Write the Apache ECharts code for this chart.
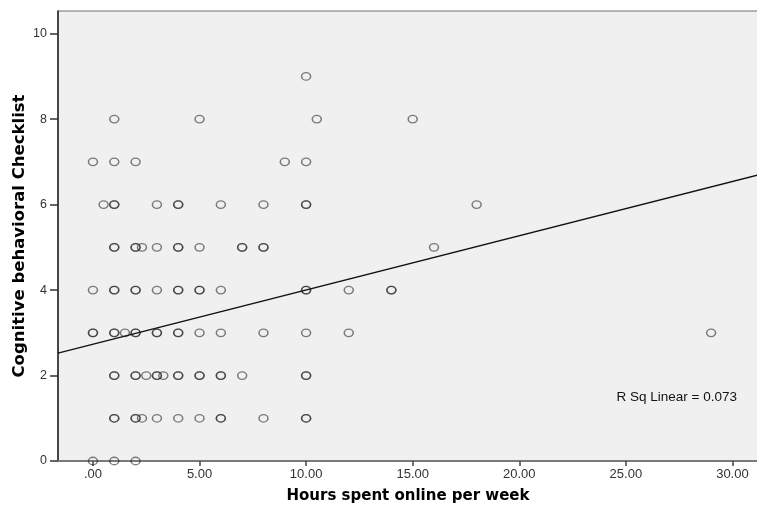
<!DOCTYPE html>
<html>
<head>
<meta charset="utf-8">
<script src="https://cdn.jsdelivr.net/npm/echarts@6/dist/echarts.min.js"></script>
<style>html,body{margin:0;padding:0;background:#fff}#c{width:757px;height:509px}</style>
</head>
<body>
<div id="c"></div>
<script>
// Hours spent online per week (x) and Cognitive behavioral Checklist score (y), one entry per respondent
const hoursOnline = [
  0,1,2,
  1,1,2,2,2.3,3,4,5,6,6,8,10,10,
  1,1,2,2,2.5,3,3,3.3,4,4,5,5,6,6,7,10,10,
  0,0,1,1,1.5,2,2,3,3,4,4,5,6,8,10,12,29,
  0,1,1,2,2,3,4,4,5,5,6,10,10,12,14,14,
  1,1,2,2,2.3,3,4,4,5,7,7,8,8,16,
  0.5,1,1,3,4,4,6,8,10,10,18,
  0,1,2,9,10,
  1,5,10.5,15,
  10
];
const checklistScore = [
  0,0,0,
  1,1,1,1,1,1,1,1,1,1,1,1,1,
  2,2,2,2,2,2,2,2,2,2,2,2,2,2,2,2,2,
  3,3,3,3,3,3,3,3,3,3,3,3,3,3,3,3,3,
  4,4,4,4,4,4,4,4,4,4,4,4,4,4,4,4,
  5,5,5,5,5,5,5,5,5,5,5,5,5,5,
  6,6,6,6,6,6,6,6,6,6,6,
  7,7,7,7,7,
  8,8,8,8,
  9
];
const fitIntercept = 2.73;
const fitSlope = 0.127;
const rSqLabel = 'R Sq Linear = 0.073';
const xTicks = [0, 5, 10, 15, 20, 25, 30];
const yTicks = [0, 2, 4, 6, 8, 10];
const xMin = -1.64, xMax = 31.2, yMin = 0, yMax = 10.53;

const points = hoursOnline.map((h, i) => [h, checklistScore[i]]);
const fitLine = [[xMin, fitIntercept + fitSlope * xMin], [xMax, fitIntercept + fitSlope * xMax]];

const chart = echarts.init(document.getElementById('c'));
const font = 'Arial, "Liberation Sans", sans-serif';
const titleFont = '"DejaVu Sans", Verdana, sans-serif';
chart.setOption({
  animation: false,
  backgroundColor: '#ffffff',
  grid: {
    left: 58, top: 11, right: -1, bottom: 48,
    outerBoundsMode: 'none', containLabel: false,
    show: true, backgroundColor: '#f0f0f0', borderColor: '#6e6e6e', borderWidth: 1
  },
  xAxis: {
    type: 'value', min: xMin, max: xMax,
    name: 'Hours spent online per week', nameLocation: 'middle', nameGap: 28, nameMoveOverlap: false,
    nameTextStyle: { fontFamily: titleFont, fontSize: 15, fontWeight: 'bold', color: '#000' },
    splitLine: { show: false },
    axisLine: { show: true, onZero: false, lineStyle: { color: '#7a7a7a', width: 2 } },
    axisTick: { show: true, length: 5, customValues: xTicks, lineStyle: { color: '#444', width: 1.5 } },
    axisLabel: {
      customValues: xTicks, margin: 7, color: '#333', fontFamily: font, fontSize: 13,
      formatter: v => v === 0 ? '.00' : v.toFixed(2)
    }
  },
  yAxis: {
    type: 'value', min: yMin, max: yMax,
    name: 'Cognitive behavioral Checklist', nameLocation: 'middle', nameGap: 30, nameMoveOverlap: false,
    nameTextStyle: { fontFamily: titleFont, fontSize: 16.5, fontWeight: 'bold', color: '#000' },
    splitLine: { show: false },
    axisLine: { show: true, onZero: false, lineStyle: { color: '#222', width: 1.5 } },
    axisTick: { show: true, length: 8, customValues: yTicks, lineStyle: { color: '#333', width: 1.5 } },
    axisLabel: { customValues: yTicks, margin: 11, color: '#333', fontFamily: font, fontSize: 12.5 }
  },
  graphic: [{
    type: 'text', right: 20, top: 390, z: 10,
    style: { text: rSqLabel, fontFamily: font, fontSize: 13.5, fill: '#111' }
  }],
  series: [
    {
      type: 'line', data: fitLine, symbol: 'none', silent: true,
      lineStyle: { color: '#111', width: 1.3 }, z: 3
    },
    {
      type: 'scatter', data: points, symbol: 'circle', symbolSize: [9, 7.5], clip: false,
      itemStyle: { color: 'rgba(0,0,0,0)', borderColor: 'rgba(30,30,30,0.7)', borderWidth: 1.4 }, z: 4
    }
  ]
});
</script>
</body>
</html>
